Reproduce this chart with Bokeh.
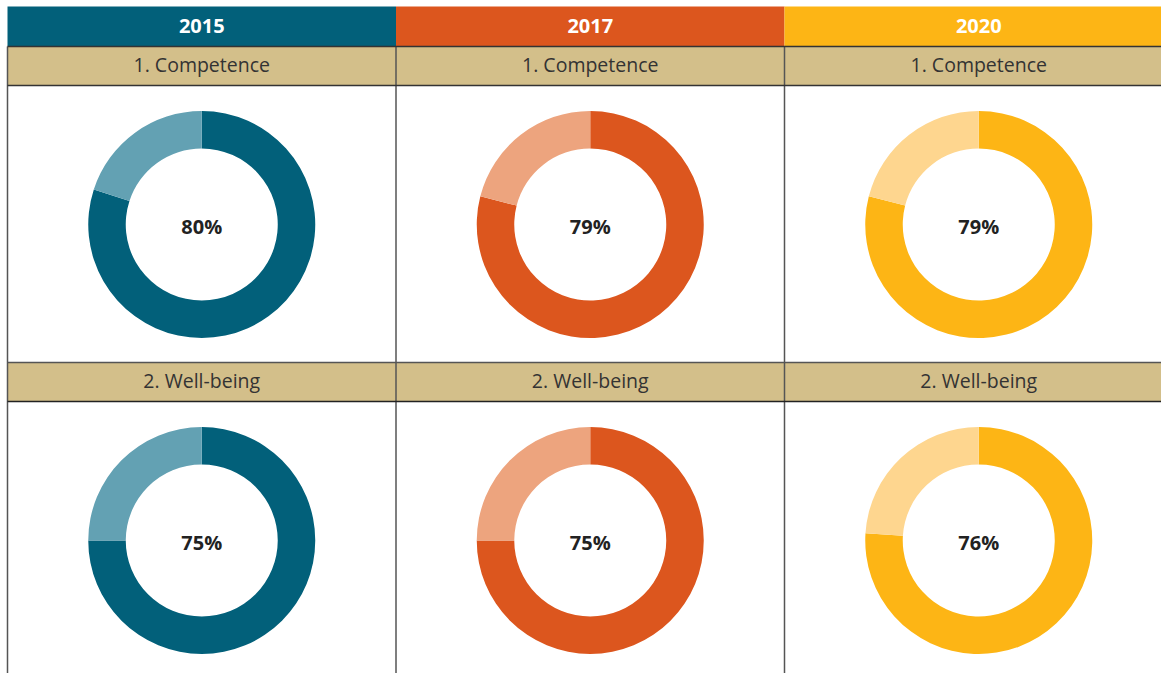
import math
from bokeh.plotting import figure
from bokeh.models import Range1d, ColumnDataSource
from bokeh.core.properties import value
from bokeh.embed import file_html
from bokeh.resources import INLINE

# ---- data ----
years = ["2015", "2017", "2020"]
categories = ["1. Competence", "2. Well-being"]
competence = [80, 79, 79]
well_being = [75, 75, 76]

# ---- style ----
dark = ["#02607A", "#DC561E", "#FDB515"]
light = ["#63A1B3", "#EDA47E", "#FED68F"]
tan = "#D3BF8A"
FONT = "Open Sans"

W, H = 1161, 673
p = figure(width=W, height=H, output_backend="svg", toolbar_location=None,
           x_range=Range1d(0, W), y_range=Range1d(0, H),
           min_border=0, outline_line_color=None)
p.axis.visible = False
p.grid.visible = False
p.background_fill_color = "white"
p.border_fill_color = "white"

def Y(sy):  # screen y -> data y
    return H - sy

col_left = 7
col_w = 388.5
header = (6, 46)
rows = [((46, 85), (85, 362)), ((362, 401), (401, 679))]
centers = [224, 540]
r_out, r_in = 113.5, 76

values = [competence, well_being]

for i, yr in enumerate(years):
    x0 = col_left + i * col_w
    x1 = x0 + col_w
    cx = (x0 + x1) / 2
    # header
    p.quad(left=x0, right=x1, top=Y(header[0]), bottom=Y(header[1]),
           fill_color=dark[i], line_color=None)
    p.text(x=[cx], y=[Y(25)], text=[yr], text_align="center", text_baseline="middle",
           text_font=value(FONT), text_font_style="bold", text_font_size="20px",
           text_color="white")
    for r, ((ly0, ly1), (cy0, cy1)) in enumerate(rows):
        p.quad(left=x0, right=x1, top=Y(ly0), bottom=Y(ly1),
               fill_color=tan, line_color=None)
        p.text(x=[cx], y=[Y((ly0 + ly1) / 2 - 2)], text=[categories[r]],
               text_align="center", text_baseline="middle",
               text_font=value(FONT), text_font_size="19.5px", text_color="#333333")
        v = values[r][i]
        cyc = centers[r]
        frac = v / 100.0
        src = ColumnDataSource(dict(
            start=[math.pi / 2 - frac * 2 * math.pi, math.pi / 2],
            end=[math.pi / 2, math.pi / 2 + (1 - frac) * 2 * math.pi],
            color=[dark[i], light[i]]))
        p.annular_wedge(x=cx, y=Y(cyc), inner_radius=r_in, outer_radius=r_out,
                        start_angle="start", end_angle="end", fill_color="color",
                        line_color=None, source=src)
        p.text(x=[cx], y=[Y(cyc + 2)], text=[f"{v}%"], text_align="center",
               text_baseline="middle", text_font=value(FONT),
               text_font_style="bold", text_font_size="20px", text_color="#222222")

# grid lines
for i in range(4):
    x = col_left + i * col_w
    p.segment(x0=x, y0=Y(46), x1=x, y1=Y(680), line_color="#555555", line_width=1.5)
for sy, c in [(46, "#333333"), (85, "#333333"), (362, "#555555"), (401, "#222222")]:
    p.segment(x0=col_left, y0=Y(sy), x1=1172, y1=Y(sy), line_color=c, line_width=1.5)

open("out.html", "w").write(file_html(p, INLINE))
